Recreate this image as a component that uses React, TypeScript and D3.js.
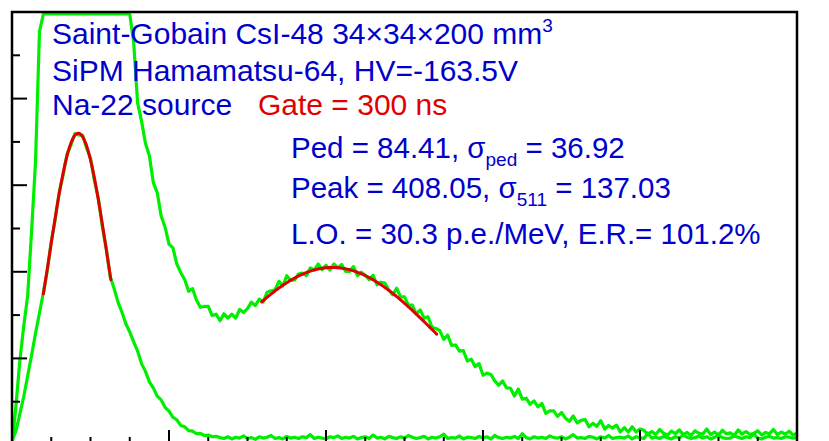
import React from 'react';
import * as d3 from 'd3';

// Spectra binned in ADC channels (bin width 5, channel 0..1000)
const BIN_WIDTH = 5;

// Na-22 spectrum, Gate = 300 ns
const sourceCounts: number[] = [
  0, 90, 195, 275, 345, 495, 655, 955, 1180, 1400,
  1600, 1780, 1900, 2000, 2060, 2080, 2060, 2020, 1950, 1870,
  1780, 1680, 1580, 1480, 1380, 1290, 1210, 1140, 1085, 1040,
  1020, 930, 790, 748, 697, 668, 606, 583, 529, 503,
  464, 455, 418, 398, 382, 355, 361, 335, 318, 320,
  320, 299, 302, 287, 303, 293, 302, 293, 313, 306,
  315, 330, 322, 337, 330, 353, 356, 358, 378, 367,
  391, 380, 381, 395, 397, 391, 409, 404, 418, 405,
  415, 404, 418, 409, 417, 401, 401, 412, 391, 399,
  392, 382, 392, 370, 376, 374, 358, 347, 362, 342,
  342, 323, 323, 303, 312, 293, 296, 272, 269, 264,
  244, 254, 230, 231, 217, 218, 194, 198, 181, 188,
  161, 166, 163, 148, 138, 148, 132, 131, 113, 129,
  106, 108, 94, 102, 88, 96, 73, 79, 79, 66,
  75, 62, 55, 67, 51, 57, 59, 42, 50, 43,
  56, 37, 45, 39, 46, 30, 40, 30, 42, 30,
  37, 34, 25, 31, 24, 36, 27, 23, 32, 26,
  35, 24, 29, 22, 33, 27, 25, 37, 24, 30,
  23, 34, 26, 28, 22, 35, 25, 31, 24, 27,
  33, 23, 29, 26, 36, 24, 30, 25, 32, 23,
  28,
];

// Pedestal spectrum
const pedestalCounts: number[] = [
  10, 32, 72, 112, 160, 208, 258, 305, 352, 403,
  470, 520, 583, 622, 671, 692, 719, 716, 715, 686,
  662, 611, 569, 505, 455, 389, 362, 330, 307, 280,
  261, 238, 217, 188, 170, 146, 132, 113, 104, 87,
  78, 64, 58, 45, 42, 33, 32, 26, 27, 22,
  23, 19, 20,
  17, 15, 19, 14, 18, 16, 21, 15, 17, 13,
  19, 16, 18, 22, 15, 17, 14, 20, 16, 18,
  15, 19, 17, 24, 15, 18, 16, 14, 19, 17,
  21, 15, 18, 16, 20, 14, 17, 19, 15, 23,
  16, 18, 14, 20, 17, 15, 19, 16, 22, 18,
  15, 17, 20, 14, 18, 16, 19, 25, 15, 17,
  16, 21, 14, 18, 17, 15, 20, 16, 19, 14,
  22, 17, 15, 18, 16, 20, 15, 26, 17, 14,
  19, 16, 18, 15, 21, 17, 16, 19, 14, 18,
  24, 16, 17, 15, 20, 18, 14, 19, 16, 22,
  15, 17, 18, 16, 21, 14, 19, 17, 15, 27,
  16, 18, 15, 20, 17, 14, 19, 16, 23, 18,
  15, 17, 20, 16, 19, 14, 18, 22, 17, 15,
  16, 21, 18, 15, 19, 17, 25, 16, 14, 18,
  20, 16, 17, 15, 19, 18, 16, 17,
];

// Gaussian fits: pedestal and 511 keV photopeak
const fitMeans = [84.41, 408.05];
const fitSigmas = [36.92, 137.03];
const fitAmplitudes = [720, 410];
const fitFrom = [40, 318];
const fitTo = [126, 541];

const lightOutput = 30.3;
const energyResolution = 101.2;

const X_DOMAIN: [number, number] = [0, 1000];
const Y_DOMAIN: [number, number] = [0, 1000];

const W = 829;
const H = 441;
const LEFT = 12;
const RIGHT = 797;
const TOP = 12;
const BOTTOM = 445;

const GREEN = '#00ee00';
const RED = '#e00000';
const BLUE = '#0000cc';
const FONT = '"Liberation Sans", Arial, Helvetica, sans-serif';

export default function App() {
  const x = d3.scaleLinear().domain(X_DOMAIN).range([LEFT, RIGHT]);
  const y = d3.scaleLinear().domain(Y_DOMAIN).range([BOTTOM, TOP]);
  // overflowing bins are drawn along the top edge of the frame
  const yc = (v: number) => Math.max(y(v), TOP + 2);

  const histLine = d3
    .line<number>()
    .x((_, i) => x(i * BIN_WIDTH))
    .y((d) => yc(d));

  const fitLine = (k: number) => {
    const pts = d3.range(fitFrom[k], fitTo[k] + 0.5, 1);
    const g = (c: number) =>
      fitAmplitudes[k] * Math.exp(-0.5 * ((c - fitMeans[k]) / fitSigmas[k]) ** 2);
    return d3
      .line<number>()
      .x((c) => x(c))
      .y((c) => y(g(c)))(pts) as string;
  };

  const xMinor = d3.range(X_DOMAIN[0], X_DOMAIN[1] + 1, 50);
  const yMinor = d3.range(Y_DOMAIN[0], Y_DOMAIN[1] + 1, 100);

  const top = { fontFamily: FONT, fontSize: 30, fill: BLUE } as const;
  const low = { fontFamily: FONT, fontSize: 29.5, fill: BLUE } as const;

  return (
    <svg
      width={W}
      height={H}
      viewBox={`0 0 ${W} ${H}`}
      style={{ position: 'fixed', left: 0, top: 0, background: '#ffffff' }}
    >
      <defs>
        <clipPath id="frame-clip">
          <rect x={LEFT} y={TOP} width={RIGHT - LEFT} height={BOTTOM - TOP} />
        </clipPath>
      </defs>

      <g clipPath="url(#frame-clip)" fill="none" strokeLinejoin="round">
        <path d={histLine(sourceCounts) as string} stroke={GREEN} strokeWidth={3.2} />
        <path d={histLine(pedestalCounts) as string} stroke={GREEN} strokeWidth={3.2} />
        {fitMeans.map((_, k) => (
          <path key={k} d={fitLine(k)} stroke={RED} strokeWidth={3} strokeLinecap="round" />
        ))}
      </g>

      {/* frame */}
      <rect
        x={LEFT}
        y={TOP}
        width={RIGHT - LEFT}
        height={BOTTOM - TOP}
        fill="none"
        stroke="#000"
        strokeWidth={2.5}
      />

      {/* ticks */}
      <g stroke="#000" strokeWidth={2}>
        {yMinor.map((v) => {
          const major = v % 200 === 0;
          return (
            <line key={'y' + v} x1={LEFT} x2={LEFT + (major ? 15 : 8)} y1={y(v)} y2={y(v)} />
          );
        })}
        {xMinor.map((v) => {
          const major = v % 200 === 0;
          return (
            <line key={'x' + v} x1={x(v)} x2={x(v)} y1={BOTTOM} y2={BOTTOM - (major ? 15 : 8)} />
          );
        })}
      </g>

      {/* annotations */}
      <text x={52} y={44} {...top}>
        Saint-Gobain CsI-48 34×34×200 mm
        <tspan fontSize={19} dy={-12}>3</tspan>
      </text>
      <text x={52} y={81} {...top}>
        SiPM Hamamatsu-64, HV=-163.5V
      </text>
      <text x={52} y={115} {...top}>
        Na-22 source
      </text>
      <text x={258} y={115} {...top} fill={RED}>
        Gate = 300 ns
      </text>
      <text x={291} y={158} {...low}>
        Ped = {fitMeans[0].toFixed(2)}, σ
        <tspan fontSize={19} dy={8}>ped</tspan>
        <tspan dy={-8}> = {fitSigmas[0].toFixed(2)}</tspan>
      </text>
      <text x={291} y={198} {...low}>
        Peak = {fitMeans[1].toFixed(2)}, σ
        <tspan fontSize={19} dy={8}>511</tspan>
        <tspan dy={-8}> = {fitSigmas[1].toFixed(2)}</tspan>
      </text>
      <text x={291} y={244} {...low}>
        L.O. = {lightOutput.toFixed(1)} p.e./MeV, E.R.= {energyResolution.toFixed(1)}%
      </text>
    </svg>
  );
}
